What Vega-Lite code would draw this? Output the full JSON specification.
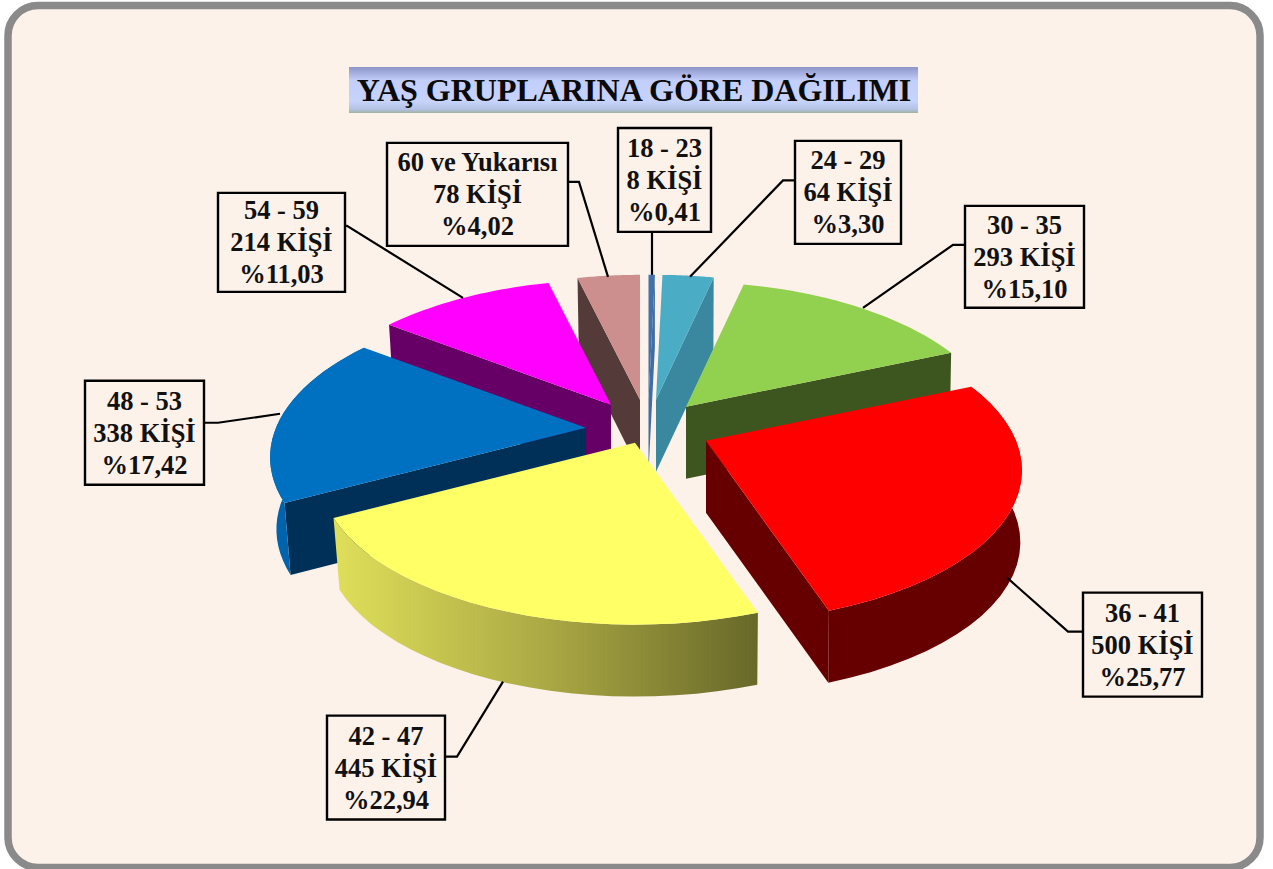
{"$schema":"https://vega.github.io/schema/vega-lite/v6.json","width":1252,"height":862,"autosize":"none","padding":{"left":8,"top":5.5,"right":13,"bottom":1.5},"background":"#ffffff","view":{"fill":"#fdf2ea","stroke":"#8a8a8a","strokeWidth":7.5,"cornerRadius":30},"data":{"values":[{"group":"18 - 23","count":8,"pct":0.41},{"group":"24 - 29","count":64,"pct":3.30},{"group":"60 ve Yukarısı","count":78,"pct":4.02},{"group":"54 - 59","count":214,"pct":11.03},{"group":"30 - 35","count":293,"pct":15.10},{"group":"48 - 53","count":338,"pct":17.42},{"group":"36 - 41","count":500,"pct":25.77},{"group":"42 - 47","count":445,"pct":22.94}]},"transform":[{"joinaggregate":[{"op":"sum","field":"count","as":"total"}]},{"stack":"count","groupby":[],"sort":[{"field":"group","order":"ascending"}],"as":["c0","c1"]},{"calculate":"2*PI*datum.c0/datum.total","as":"a0"},{"calculate":"2*PI*datum.c1/datum.total","as":"a1"},{"calculate":"{'18 - 23':648.5,'24 - 29':656,'30 - 35':686,'36 - 41':706,'42 - 47':635,'48 - 53':586,'54 - 59':611,'60 ve Yukarısı':640}[datum.group]","as":"ax"},{"calculate":"{'18 - 23':400,'24 - 29':400,'30 - 35':407,'36 - 41':441,'42 - 47':443,'48 - 53':428,'54 - 59':405,'60 ve Yukarısı':400}[datum.group]","as":"ay"},{"calculate":"{'18 - 23':[618,128,711,232],'24 - 29':[795,141,901,244],'30 - 35':[965,206,1084,308],'36 - 41':[1083,593,1202,697],'42 - 47':[327,716,445,820],'48 - 53':[85,381,204,485],'54 - 59':[218,193,345,292],'60 ve Yukarısı':[387,143,568,246]}[datum.group]","as":"box"},{"calculate":"datum.box[0]","as":"bx0"},{"calculate":"datum.box[1]","as":"by0"},{"calculate":"datum.box[2]","as":"bx1"},{"calculate":"datum.box[3]","as":"by1"},{"calculate":"(datum.bx0+datum.bx1)/2","as":"tx"},{"calculate":"(datum.by0+datum.by1)/2","as":"ty"},{"calculate":"datum.group+'\\n'+datum.count+' KİŞİ\\n%'+replace(format(datum.pct,'.2f'),'.',',')","as":"label"}],"resolve":{"scale":{"color":"independent"}},"layer":[{"mark":{"type":"rect","fill":{"gradient":"linear","x1":0,"y1":0,"x2":0,"y2":1,"stops":[{"offset":0,"color":"#8d95c9"},{"offset":0.3,"color":"#c3cffb"},{"offset":0.75,"color":"#c6d3fb"},{"offset":0.92,"color":"#b3c2e4"},{"offset":1,"color":"#9fb3a2"}]}},"data":{"values":[{"title":"YAŞ GRUPLARINA GÖRE DAĞILIMI"}]},"transform":[],"encoding":{"x":{"datum":349,"scale":{"domain":[8,1260],"nice":false,"zero":false},"axis":null},"x2":{"datum":918},"y":{"datum":67,"scale":{"domain":[868,5.5],"nice":false,"zero":false},"axis":null},"y2":{"datum":113}}},{"mark":{"type":"text","font":"Liberation Serif","fontWeight":"bold","fontSize":32,"color":"#0a0a0a","align":"center","baseline":"middle"},"data":{"values":[{"title":"YAŞ GRUPLARINA GÖRE DAĞILIMI"}]},"encoding":{"x":{"datum":634,"scale":{"domain":[8,1260],"nice":false,"zero":false},"axis":null},"y":{"datum":91,"scale":{"domain":[868,5.5],"nice":false,"zero":false},"axis":null},"text":{"field":"title"}}},{"transform":[{"filter":"datum.group!='42 - 47'"},{"calculate":"(datum.a0+datum.a1)/2<PI?datum.a1:datum.a0","as":"wa"},{"calculate":"[0,1,2,3]","as":"i"},{"flatten":["i"]},{"calculate":"310*sin(datum.wa)*(1-0.2*cos(datum.wa))","as":"rx"},{"calculate":"-cos(datum.wa)*(153.5-28.5*cos(datum.wa))","as":"ry"},{"calculate":"datum.ax+((datum.i==1||datum.i==2)?datum.rx*(datum.i==2?(datum.rx<0?0.98:0.995):1):0)","as":"px"},{"calculate":"datum.ay+((datum.i==1||datum.i==2)?datum.ry:0)+(datum.i>=2?72:0)","as":"py"}],"mark":{"type":"line","filled":true,"strokeWidth":0},"encoding":{"x":{"field":"px","type":"quantitative","scale":{"domain":[8,1260],"nice":false,"zero":false},"axis":null},"y":{"field":"py","type":"quantitative","scale":{"domain":[868,5.5],"nice":false,"zero":false},"axis":null},"order":{"field":"i","type":"quantitative"},"color":{"field":"group","type":"nominal","legend":null,"scale":{"domain":["18 - 23","24 - 29","30 - 35","36 - 41","48 - 53","54 - 59","60 ve Yukarısı"],"range":["#3f6ea3","#3a87a0","#3d5620","#660000","#003057","#660066","#553a3a"]}}}},{"transform":[{"filter":"datum.group=='36 - 41'||datum.group=='48 - 53'"},{"calculate":"[0,1,2,3,4,5,6,7,8,9,10,11,12,13,14,15,16,17,18,19,20,21,22,23,24,25,26,27,28,29,30,31,32,33,34,35,36,37,38,39,40,41,42,43,44,45,46,47,48,49,50,51]","as":"i"},{"flatten":["i"]},{"calculate":"datum.i<=25?datum.i/25:(51-datum.i)/25","as":"f"},{"calculate":"datum.a0+(datum.a1-datum.a0)*datum.f","as":"t"},{"calculate":"datum.ax+310*sin(datum.t)*(1-0.2*cos(datum.t))*(datum.i>25?(sin(datum.t)<0?0.98:0.995):1)","as":"px"},{"calculate":"datum.ay-cos(datum.t)*(153.5-28.5*cos(datum.t))+(datum.i>25?72:0)","as":"py"}],"mark":{"type":"line","filled":true,"strokeWidth":0},"encoding":{"x":{"field":"px","type":"quantitative","scale":{"domain":[8,1260],"nice":false,"zero":false},"axis":null},"y":{"field":"py","type":"quantitative","scale":{"domain":[868,5.5],"nice":false,"zero":false},"axis":null},"order":{"field":"i","type":"quantitative"},"color":{"field":"group","type":"nominal","legend":null,"scale":{"domain":["36 - 41","48 - 53"],"range":["#660000","#0064ad"]}}}},{"transform":[{"filter":"datum.group=='42 - 47'"},{"calculate":"[0,1,2,3,4,5,6,7,8,9,10,11,12,13,14,15,16,17,18,19,20,21,22,23,24,25,26,27,28,29,30,31,32,33,34,35,36,37,38,39,40,41,42,43,44,45,46,47,48,49,50,51]","as":"i"},{"flatten":["i"]},{"calculate":"datum.i<=25?datum.i/25:(51-datum.i)/25","as":"f"},{"calculate":"datum.a0+(datum.a1-datum.a0)*datum.f","as":"t"},{"calculate":"datum.ax+310*sin(datum.t)*(1-0.2*cos(datum.t))*(datum.i>25?(sin(datum.t)<0?0.98:0.995):1)","as":"px"},{"calculate":"datum.ay-cos(datum.t)*(153.5-28.5*cos(datum.t))+(datum.i>25?72:0)","as":"py"}],"mark":{"type":"line","strokeWidth":0,"stroke":null,"fill":{"gradient":"linear","x1":0,"y1":0,"x2":1,"y2":0,"stops":[{"offset":0,"color":"#dfdf5a"},{"offset":0.5,"color":"#aba944"},{"offset":1,"color":"#686829"}]}},"encoding":{"x":{"field":"px","type":"quantitative","scale":{"domain":[8,1260],"nice":false,"zero":false},"axis":null},"y":{"field":"py","type":"quantitative","scale":{"domain":[868,5.5],"nice":false,"zero":false},"axis":null},"order":{"field":"i","type":"quantitative"}}},{"transform":[{"calculate":"[0,1,2,3,4,5,6,7,8,9,10,11,12,13,14,15,16,17,18,19,20,21,22,23,24,25,26]","as":"i"},{"flatten":["i"]},{"calculate":"datum.a0+(datum.a1-datum.a0)*datum.i/25","as":"t"},{"calculate":"datum.ax+(datum.i<=25?310*sin(datum.t)*(1-0.2*cos(datum.t)):0)","as":"px"},{"calculate":"datum.ay+(datum.i<=25?-cos(datum.t)*(153.5-28.5*cos(datum.t)):0)","as":"py"}],"mark":{"type":"line","filled":true,"strokeWidth":0},"encoding":{"x":{"field":"px","type":"quantitative","scale":{"domain":[8,1260],"nice":false,"zero":false},"axis":null},"y":{"field":"py","type":"quantitative","scale":{"domain":[868,5.5],"nice":false,"zero":false},"axis":null},"order":{"field":"i","type":"quantitative"},"color":{"field":"group","type":"nominal","legend":null,"scale":{"domain":["18 - 23","24 - 29","30 - 35","36 - 41","42 - 47","48 - 53","54 - 59","60 ve Yukarısı"],"range":["#4472a8","#4bacc6","#92d050","#ff0000","#ffff66","#0070c0","#ff00ff","#cd8e8e"]}}}},{"transform":[{"calculate":"{'18 - 23':[[652,232,0],[652,275,1]],'24 - 29':[[795,180.5,0],[783,180.5,1],[690,277,2]],'30 - 35':[[965,245,0],[953,245,1],[863,308,2]],'36 - 41':[[1083,632,0],[1068,632,1],[1007,578,2]],'42 - 47':[[445,757,0],[457,757,1],[503,682,2]],'48 - 53':[[204,423,0],[218,423,1],[280,414,2]],'54 - 59':[[345,226,0],[347,226,1],[463,298,2]],'60 ve Yukarısı':[[568,182,0],[579,182,1],[608,277,2]]}[datum.group]","as":"lp"},{"flatten":["lp"]},{"calculate":"datum.lp[0]","as":"px"},{"calculate":"datum.lp[1]","as":"py"},{"calculate":"datum.lp[2]","as":"n"}],"mark":{"type":"line","color":"#000000","strokeWidth":2.2},"encoding":{"x":{"field":"px","type":"quantitative","scale":{"domain":[8,1260],"nice":false,"zero":false},"axis":null},"y":{"field":"py","type":"quantitative","scale":{"domain":[868,5.5],"nice":false,"zero":false},"axis":null},"order":{"field":"n","type":"quantitative"},"detail":{"field":"group"}}},{"mark":{"type":"rect","fill":"#fdf2ea","stroke":"#000000","strokeWidth":2.4},"encoding":{"x":{"field":"bx0","type":"quantitative","scale":{"domain":[8,1260],"nice":false,"zero":false},"axis":null},"x2":{"field":"bx1"},"y":{"field":"by0","type":"quantitative","scale":{"domain":[868,5.5],"nice":false,"zero":false},"axis":null},"y2":{"field":"by1"}}},{"mark":{"type":"text","font":"Liberation Serif","fontWeight":"bold","fontSize":26.5,"lineHeight":32,"dy":-31,"color":"#111111","align":"center","baseline":"middle"},"encoding":{"x":{"field":"tx","type":"quantitative","scale":{"domain":[8,1260],"nice":false,"zero":false},"axis":null},"y":{"field":"ty","type":"quantitative","scale":{"domain":[868,5.5],"nice":false,"zero":false},"axis":null},"text":{"field":"label"}}}],"config":{"text":{"lineBreak":"\n"}}}
